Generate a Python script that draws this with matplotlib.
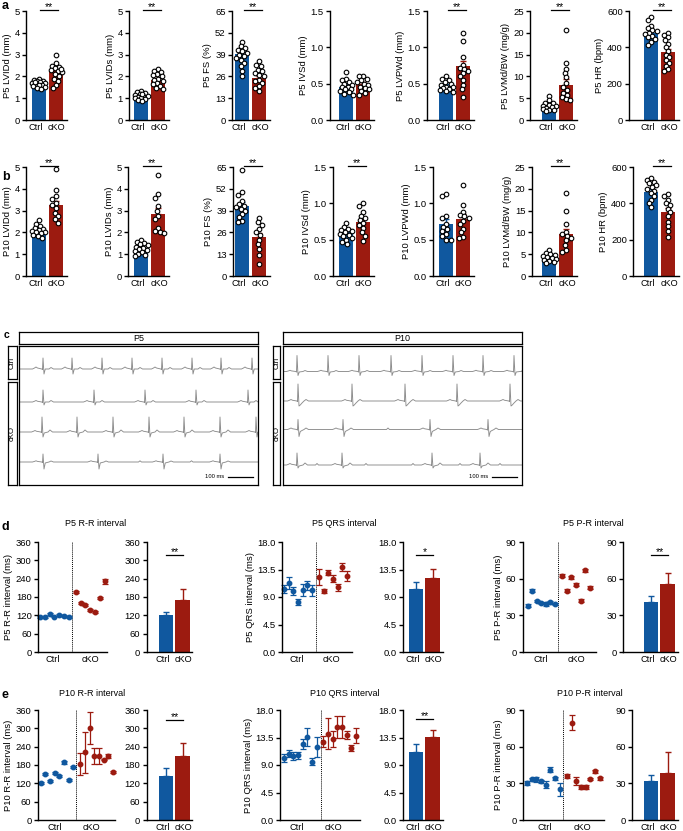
import numpy as np
import matplotlib
matplotlib.use('Agg')
import matplotlib.pyplot as plt

plt.rcParams['font.family'] = ['Liberation Sans', 'DejaVu Sans']
plt.rcParams['font.size'] = 6.8

W, H = 683, 831
BLUE = '#10589f'
RED = '#9c1b10'
GRAY = '#8c8c8c'
FS = 6.8

# ---------------- panels a / b : echo ----------------
echo_names = ['LVIDd (mm)', 'LVIDs (mm)', 'FS (%)', 'IVSd (mm)', 'LVPWd (mm)',
              'LVMd/BW (mg/g)', 'HR (bpm)']
echo_ymax = [5, 5, 65, 1.5, 1.5, 25, 600]
echo_ticks = [[0, 1, 2, 3, 4, 5], [0, 1, 2, 3, 4, 5], [0, 13, 26, 39, 52, 65],
              [0.0, 0.5, 1.0, 1.5], [0.0, 0.5, 1.0, 1.5], [0, 5, 10, 15, 20, 25],
              [0, 200, 400, 600]]

p5_ctrl = [
    [1.9, 1.85, 1.8, 1.8, 1.75, 1.7, 1.7, 1.65, 1.6, 1.6, 1.55, 1.5, 1.45, 1.4, 1.75],
    [1.35, 1.3, 1.25, 1.2, 1.15, 1.1, 1.1, 1.05, 1.0, 1.0, 0.95, 0.9, 0.85, 1.2],
    [46.5, 44, 43, 42, 41, 40, 39, 38, 37, 36, 34, 32, 29, 26],
    [0.66, 0.57, 0.55, 0.52, 0.5, 0.48, 0.46, 0.45, 0.43, 0.42, 0.4, 0.38, 0.36, 0.35],
    [0.6, 0.57, 0.55, 0.52, 0.5, 0.48, 0.46, 0.45, 0.44, 0.42, 0.41, 0.4, 0.39],
    [5.6, 4.5, 4.0, 3.8, 3.5, 3.3, 3.1, 3.0, 2.8, 2.6, 2.4, 2.2, 2.0],
    [565, 550, 520, 505, 495, 490, 480, 475, 465, 455, 445, 430, 415],
]
p5_cko = [
    [2.97, 2.6, 2.5, 2.45, 2.4, 2.3, 2.25, 2.2, 2.1, 2.0, 1.9, 1.8, 1.6, 1.45, 2.35],
    [2.35, 2.25, 2.2, 2.1, 2.05, 2.0, 1.9, 1.85, 1.8, 1.7, 1.65, 1.55, 1.45, 1.4],
    [35, 33, 32, 30, 29, 28, 27, 26, 24, 23, 22, 20, 19, 17],
    [0.6, 0.6, 0.57, 0.55, 0.52, 0.5, 0.48, 0.46, 0.44, 0.42, 0.4, 0.37, 0.35],
    [1.2, 1.09, 0.87, 0.76, 0.72, 0.7, 0.67, 0.64, 0.6, 0.55, 0.48, 0.42, 0.31],
    [20.6, 13.0, 11.8, 10.8, 9.8, 8.4, 7.6, 6.9, 6.3, 5.8, 5.3, 4.8, 4.5],
    [480, 470, 455, 440, 420, 400, 380, 360, 345, 330, 315, 300, 280, 270],
]
p5_mean = [[1.67, 2.25], [1.08, 1.83], [39.5, 25], [0.46, 0.49], [0.47, 0.74],
           [3.3, 8.0], [481, 375]]
p5_err = [[0.05, 0.1], [0.05, 0.08], [1.5, 1.5], [0.03, 0.03], [0.02, 0.07],
          [0.3, 1.3], [12, 18]]
p5_stars = [True, True, True, False, True, True, True]

p10_ctrl = [
    [2.55, 2.4, 2.3, 2.2, 2.15, 2.1, 2.05, 2.0, 2.0, 1.95, 1.9, 1.85, 1.75],
    [1.65, 1.55, 1.5, 1.45, 1.4, 1.35, 1.3, 1.25, 1.2, 1.15, 1.1, 1.0, 0.95, 0.9],
    [63, 50, 48.5, 45, 43, 42, 41, 40, 39, 37, 35, 33, 32],
    [0.73, 0.68, 0.65, 0.63, 0.62, 0.6, 0.58, 0.56, 0.55, 0.52, 0.5, 0.47, 0.44],
    [1.13, 1.1, 0.83, 0.8, 0.72, 0.68, 0.65, 0.62, 0.58, 0.55, 0.5, 0.49],
    [6.0, 5.3, 5.0, 4.8, 4.5, 4.3, 4.2, 4.0, 3.7, 3.4, 3.1, 2.9],
    [540, 530, 520, 510, 500, 490, 480, 470, 455, 440, 420, 400, 380],
]
p10_cko = [
    [4.9, 3.95, 3.65, 3.55, 3.35, 3.25, 3.1, 2.9, 2.75, 2.6, 2.45],
    [4.65, 3.75, 3.6, 3.2, 3.0, 2.75, 2.6, 2.2, 2.05, 2.0, 1.95],
    [34.5, 32, 30.5, 28, 26, 24.5, 21.5, 19, 16, 12.5, 7],
    [1.0, 0.97, 0.88, 0.83, 0.8, 0.77, 0.73, 0.7, 0.66, 0.6, 0.55, 0.48],
    [1.25, 0.98, 0.88, 0.84, 0.82, 0.8, 0.76, 0.72, 0.65, 0.6, 0.53, 0.52],
    [19, 14.8, 12, 10.2, 9.6, 9.2, 8.7, 8.2, 7.2, 6.0, 5.6],
    [450, 440, 420, 400, 390, 370, 350, 330, 300, 275, 250, 215],
]
p10_mean = [[2.1, 3.25], [1.3, 2.85], [42, 23.5], [0.6, 0.74], [0.71, 0.79],
            [4.4, 9.6], [463, 350]]
p10_err = [[0.07, 0.2], [0.06, 0.25], [2.3, 2.2], [0.03, 0.05], [0.07, 0.06],
           [0.3, 1.2], [16, 25]]
p10_stars = [True, True, True, True, False, True, True]

# ---------------- panels d / e : ECG intervals ----------------
p5_rr_ctrl = [114, 114, 124, 116, 122, 117, 114]
p5_rr_ctrl_err = [3, 3, 3, 3, 3, 3, 3]
p5_rr_cko = [197, 160, 155, 137, 131, 177, 231]
p5_rr_cko_err = [4, 3, 3, 3, 3, 4, 9]
p5_qrs_ctrl = [10.3, 11.3, 10.0, 8.2, 10.2, 10.9, 10.1]
p5_qrs_ctrl_err = [0.65, 1.0, 0.6, 0.5, 1.0, 0.7, 0.9]
p5_qrs_cko = [12.3, 10.0, 13.0, 12.0, 10.6, 13.9, 12.5]
p5_qrs_cko_err = [1.3, 0.3, 0.4, 0.6, 0.6, 0.6, 0.8]
p5_pr_ctrl = [37.9, 50.2, 41.9, 40.0, 39.5, 40.6, 39.5]
p5_pr_ctrl_err = [1.0, 1.5, 1.0, 1.0, 1.8, 1.0, 1.0]
p5_pr_cko = [62.3, 50.0, 61.2, 55.2, 42.0, 67.0, 52.7]
p5_pr_cko_err = [1.2, 1.2, 1.2, 1.2, 1.2, 1.2, 1.2]

p10_rr_ctrl = [122, 150.5, 127.6, 152.7, 143, 188.7, 132, 173.5]
p10_rr_ctrl_err = [3, 3, 3, 3, 3, 4, 3, 4]
p10_rr_cko = [183, 221, 301, 210, 210, 198, 209, 157]
p10_rr_cko_err = [35, 67, 52, 26, 26, 3, 6, 4]
p10_qrs_ctrl = [10.07, 10.84, 10.45, 10.56, 12.38, 13.6, 9.57, 11.94]
p10_qrs_ctrl_err = [0.66, 0.6, 0.6, 0.5, 0.8, 1.5, 0.5, 1.65]
p10_qrs_cko = [12.77, 14.14, 13.3, 15.2, 15.2, 13.9, 11.8, 13.8]
p10_qrs_cko_err = [0.9, 2.5, 1.3, 1.8, 1.8, 0.6, 0.5, 1.2]
p10_pr_ctrl = [30.2, 33.2, 33.2, 31.6, 28.8, 41.2, 34.0, 25.0]
p10_pr_ctrl_err = [1.5, 1.5, 2.0, 1.3, 3.0, 2.0, 1.0, 5.0]
p10_pr_cko = [36.0, 79.6, 31.8, 26.9, 26.9, 33.5, 39.8, 34.0]
p10_pr_cko_err = [1.5, 6.0, 3.0, 1.5, 1.5, 1.0, 1.0, 1.0]

bar_rr_p5 = [122, 170]; bar_rr_p5_err = [9, 36]
bar_qrs_p5 = [10.3, 12.1]; bar_qrs_p5_err = [1.1, 1.5]
bar_pr_p5 = [41, 55.5]; bar_pr_p5_err = [4.8, 9]
bar_rr_p10 = [145, 208]; bar_rr_p10_err = [26, 43]
bar_qrs_p10 = [11.1, 13.65]; bar_qrs_p10_err = [1.4, 1.15]
bar_pr_p10 = [31.8, 38.1]; bar_pr_p10_err = [4.7, 17.6]

# ---------------- panel c : ECG beat times (ms) ----------------
p5_beats = [[96, 212, 332, 452, 572, 692, 808, 932],
            [96, 300, 504, 708, 916],
            [92, 232, 376, 520, 660, 804, 948],
            [96, 316, 576, 804]]
p5_ponly = [[], [], [], [484, 690]]
p10_beats = [[56, 180, 304, 432, 556, 680, 800, 924],
             [60, 276, 488, 696, 908],
             [60, 240, 588, 820],
             [56, 236, 596, 788]]
p10_ponly = [[], [], [420], [136, 332, 520, 708, 868]]

fig = plt.figure(figsize=(W / 100, H / 100), dpi=100)


def ax_px(x0, y0, x1, y1):
    return fig.add_axes([x0 / W, 1 - y1 / H, (x1 - x0) / W, (y1 - y0) / H])


def ftext(x, y, s, **kw):
    fig.text(x / W, 1 - y / H, s, **kw)


def style(ax):
    for s in ['top', 'right']:
        ax.spines[s].set_visible(False)
    for s in ['left', 'bottom']:
        ax.spines[s].set_linewidth(1.0)
    ax.tick_params(axis='y', direction='out', length=3, width=1.0, pad=1.5, labelsize=FS)
    ax.tick_params(axis='x', length=0, pad=2, labelsize=6.6)


def swarm_x(ax, vals, center, r=2.2, spread=6.5):
    bb = ax.get_position()
    x0, x1 = ax.get_xlim()
    y0, y1 = ax.get_ylim()
    ppx = bb.width * W / (x1 - x0)
    ppy = bb.height * H / (y1 - y0)
    cands = sorted(np.arange(-spread, spread + 0.01, 0.5), key=lambda c: (abs(c), c))
    placed, xs = [], []
    for v in vals:
        y = v * ppy
        best, best_d = 0, -1
        for c in cands:
            d = min([np.hypot(c - px, y - py) for px, py in placed], default=99)
            if d >= 2 * r:
                best = c
                break
            if d > best_d:
                best_d, best = d, c
        placed.append((best, y))
        xs.append(center + best / ppx)
    return xs


def fmt_ticks(ticks):
    if any(t != int(t) for t in ticks):
        return ['%.1f' % t for t in ticks]
    return ['%d' % t for t in ticks]


spines_a = [26, 129, 232, 330, 427, 530, 629]
spines_b = [26, 128.3, 233, 333, 432.7, 531.7, 633.3]
blue_c = [38.7, 141.3, 242.3, 346, 446, 549.3, 651.3]


def group_labels(ax):
    ax.set_xticks([-0.18, 1.04])
    ax.set_xticklabels(['Ctrl', 'cKO'])


def echo_row(top, bottom, spines, prefix, ctrl, cko, means, errs, stars):
    for i in range(7):
        unit = 17.0
        ax = ax_px(spines[i], top, blue_c[i] + 28, bottom)
        style(ax)
        ax.set_xlim(-(blue_c[i] - spines[i]) / unit, 1 + 11 / unit)
        ax.set_ylim(0, echo_ymax[i])
        ax.set_yticks(echo_ticks[i])
        ax.set_yticklabels(fmt_ticks(echo_ticks[i]))
        ax.bar([0, 1], means[i], width=0.82, color=[BLUE, RED], zorder=1)
        for j, c in enumerate([BLUE, RED]):
            ax.errorbar(j, means[i][j], yerr=[[0], [errs[i][j]]], color=c,
                        capsize=2.5, elinewidth=1, capthick=1, zorder=2)
        for j, pts in enumerate([ctrl[i], cko[i]]):
            xs = swarm_x(ax, pts, j)
            ax.scatter(xs, pts, s=11, facecolor='white', edgecolor='black',
                       linewidth=0.8, zorder=3, clip_on=False)
        group_labels(ax)
        ax.set_ylabel(prefix + ' ' + echo_names[i], fontsize=FS, labelpad=2)
        if stars[i]:
            y = echo_ymax[i] * 1.01
            ax.plot([0.1, 1.15], [y, y], color='black', lw=0.9, clip_on=False)
            ax.text(0.62, y, '**', ha='center', va='baseline', fontsize=7.5)


echo_row(11, 120, spines_a, 'P5', p5_ctrl, p5_cko, p5_mean, p5_err, p5_stars)
echo_row(167, 276, spines_b, 'P10', p10_ctrl, p10_cko, p10_mean, p10_err, p10_stars)

# ---------------- panel c ----------------
ECG_DT = [-42, -34, -28, -22, -5, -2, 0, 4, 9, 16, 24, 32, 42]
ECG_K = ['0', 'p', 'P', 'p', '0', 'Q', 'R', 'S', 'S2', 's2', '0', 'T', '0']
p5_amp = [dict(P=2, Q=0.6, R=11, S=5, S2=0, T=1.5),
          dict(P=1.5, Q=0.6, R=12, S=3, S2=0, T=1.5),
          dict(P=1.5, Q=0.6, R=15, S=5, S2=1, T=2),
          dict(P=1.2, Q=0.6, R=8, S=7, S2=1, T=1)]
p5_base = [369, 402, 432, 462]
p10_amp = [dict(P=1.2, Q=0.6, R=16, S=4, S2=0.5, T=1),
           dict(P=1.5, Q=0.6, R=17, S=5, S2=4, T=1.5),
           dict(P=1.5, Q=0.6, R=10, S=7, S2=2, T=1.5),
           dict(P=1.5, Q=0.6, R=12, S=3, S2=1, T=2)]
p10_base = [371.5, 401, 429.5, 465]


def ecg_trace(ax, beats, ponly, amp, base):
    lut = {'0': 0, 'P': amp['P'], 'p': amp['P'] * 0.5, 'Q': -amp['Q'], 'R': amp['R'],
           'S': -amp['S'], 'S2': -amp['S2'], 's2': -amp['S2'] * 0.5, 'T': amp['T']}
    ev = [(0, 0), (956, 0)]
    for b in beats:
        for dt, k in zip(ECG_DT, ECG_K):
            ev.append((b + dt, lut[k]))
    for b in ponly:
        for dt, k in zip([-6, -3, 0, 3, 6], ['0', 'p', 'P', 'p', '0']):
            ev.append((b + dt, lut[k]))
    ev.sort()
    t = [e[0] for e in ev]
    y = [base - e[1] for e in ev]
    ax.plot(t, y, color=GRAY, lw=0.65, clip_on=True)


def boxed(ax):
    ax.set_xticks([])
    ax.set_yticks([])
    for s in ax.spines.values():
        s.set_linewidth(0.9)


def ecg_block(x0, x1, lab_x0, lab_x1, title, beats, ponly, amps, bases):
    hd = ax_px(x0, 332, x1, 344)
    boxed(hd)
    hd.text(0.5, 0.5, title, ha='center', va='center', fontsize=6.5, transform=hd.transAxes)
    for (ya, yb, s) in [(346, 379, 'Ctrl'), (382, 485, 'cKO')]:
        lb = ax_px(lab_x0, ya, lab_x1, yb)
        boxed(lb)
        lb.text(0.55, 0.5, s, ha='center', va='center', rotation=90, fontsize=5.6,
                transform=lb.transAxes)
    ax = ax_px(x0, 346, x1, 485)
    boxed(ax)
    ax.set_xlim(0, 956)
    ax.set_ylim(485, 346)
    for i in range(4):
        ecg_trace(ax, beats[i], ponly[i], amps[i], bases[i])
    ax.plot([836, 936], [477, 477], color='black', lw=0.9)
    ax.text(820, 477, '100 ms', ha='right', va='center', fontsize=4.2)


ecg_block(19, 258, 7.5, 16.8, 'P5', p5_beats, p5_ponly, p5_amp, p5_base)
ecg_block(283, 522, 272.7, 280, 'P10', p10_beats, p10_ponly, p10_amp, p10_base)

# ---------------- panels d / e ----------------


def dot_panel(top, bottom, spine, end, ctrl0, sp, dotted, cko0, labx, ymax, ticks,
              ylabel, ctrl, ctrl_err, cko, cko_err):
    ax = ax_px(spine, top, end, bottom)
    style(ax)
    ax.set_xlim(0, end - spine)
    ax.set_ylim(0, ymax)
    ax.set_yticks(ticks)
    ax.set_yticklabels(fmt_ticks(ticks))
    xc = ctrl0 + sp * np.arange(len(ctrl))
    xk = cko0 + sp * np.arange(len(cko))
    ax.axvline(dotted, color='black', ls=(0, (1, 1)), lw=0.7)
    ax.errorbar(xc, ctrl, yerr=ctrl_err, fmt='o', ms=3.2, color=BLUE, capsize=2,
                elinewidth=0.9, capthick=0.9, clip_on=False)
    ax.errorbar(xk, cko, yerr=cko_err, fmt='o', ms=3.2, color=RED, capsize=2,
                elinewidth=0.9, capthick=0.9, clip_on=False)
    ax.set_xticks(labx)
    ax.set_xticklabels(['Ctrl', 'cKO'])
    ax.set_ylabel(ylabel, fontsize=FS, labelpad=2)


def bar_panel(top, bottom, spine, blue_px, ymax, ticks, means, errs, star, star_y):
    unit = 16.5
    end = blue_px + unit + 10
    ax = ax_px(spine, top, end, bottom)
    style(ax)
    ax.set_xlim(-(blue_px - spine) / unit, 1 + 10 / unit)
    ax.set_ylim(0, ymax)
    ax.set_yticks(ticks)
    ax.set_yticklabels(fmt_ticks(ticks))
    ax.bar([0, 1], means, width=0.85, color=[BLUE, RED])
    for j, c in enumerate([BLUE, RED]):
        ax.errorbar(j, means[j], yerr=[[0], [errs[j]]], color=c, capsize=2.5,
                    elinewidth=1, capthick=1)
    group_labels(ax)
    if star:
        ax.plot([0, 1.05], [star_y, star_y], color='black', lw=0.9)
        ax.text(0.52, star_y, star, ha='center', va='baseline', fontsize=7.5)


rr_ticks = [0, 60, 120, 180, 240, 300, 360]
qrs_ticks = [0.0, 4.5, 9.0, 13.5, 18.0]
pr_ticks = [0, 30, 60, 90]

# row d
dt_, db_ = 542, 652
dot_panel(dt_, db_, 38, 107, 2, 4.8, 34, 37.7, [15, 52], 360, rr_ticks,
          'P5 R-R interval (ms)', p5_rr_ctrl, p5_rr_ctrl_err, p5_rr_cko, p5_rr_cko_err)
bar_panel(dt_, db_, 146.5, 166, 360, rr_ticks, bar_rr_p5, bar_rr_p5_err, '**', 316)
dot_panel(dt_, db_, 282, 352, 2, 4.65, 34, 37, [15, 49], 18, qrs_ticks,
          'P5 QRS interval (ms)', p5_qrs_ctrl, p5_qrs_ctrl_err, p5_qrs_cko, p5_qrs_cko_err)
bar_panel(dt_, db_, 403, 416, 18, qrs_ticks, bar_qrs_p5, bar_qrs_p5_err, '*', 15.8)
dot_panel(dt_, db_, 522.7, 596, 5, 4.55, 35.6, 39.6, [18, 54], 90, pr_ticks,
          'P5 P-R interval (ms)', p5_pr_ctrl, p5_pr_ctrl_err, p5_pr_cko, p5_pr_cko_err)
bar_panel(dt_, db_, 623, 651, 90, pr_ticks, bar_pr_p5, bar_pr_p5_err, '**', 79)

# row e
et_, eb_ = 710, 820
dot_panel(et_, eb_, 37.7, 115, 3, 4.65, 38.3, 42.6, [17, 54], 360, rr_ticks,
          'P10 R-R interval (ms)', p10_rr_ctrl, p10_rr_ctrl_err, p10_rr_cko, p10_rr_cko_err)
bar_panel(et_, eb_, 146.5, 166, 360, rr_ticks, bar_rr_p10, bar_rr_p10_err, '**', 327)
dot_panel(et_, eb_, 280, 360, 4, 4.67, 40.7, 43.3, [17, 53], 18, qrs_ticks,
          'P10 QRS interval (ms)', p10_qrs_ctrl, p10_qrs_ctrl_err, p10_qrs_cko, p10_qrs_cko_err)
bar_panel(et_, eb_, 403, 416, 18, qrs_ticks, bar_qrs_p10, bar_qrs_p10_err, '**', 16.46)
dot_panel(et_, eb_, 522.7, 604, 4.3, 4.67, 40, 44.3, [22, 60], 90, pr_ticks,
          'P10 P-R interval (ms)', p10_pr_ctrl, p10_pr_ctrl_err, p10_pr_cko, p10_pr_cko_err)
bar_panel(et_, eb_, 632, 651, 90, pr_ticks, bar_pr_p10, bar_pr_p10_err, None, 0)

# titles and panel letters
ftext(95.5, 524, 'P5 R-R interval', ha='center', va='center', fontsize=6.5)
ftext(344, 524, 'P5 QRS interval', ha='center', va='center', fontsize=6.5)
ftext(593, 524, 'P5 P-R interval', ha='center', va='center', fontsize=6.5)
ftext(92.5, 694, 'P10 R-R interval', ha='center', va='center', fontsize=6.5)
ftext(345, 694, 'P10 QRS interval', ha='center', va='center', fontsize=6.5)
ftext(590, 694, 'P10 P-R interval', ha='center', va='center', fontsize=6.5)

for s, x, y, fs in [('a', 2, 6, 9), ('b', 2, 177, 9), ('c', 4, 335, 7.5),
                    ('d', 2, 527, 9), ('e', 2, 695, 9)]:
    ftext(x, y, s, ha='left', va='center', fontsize=fs, fontweight='bold')

fig.savefig('out.png', dpi=100)
